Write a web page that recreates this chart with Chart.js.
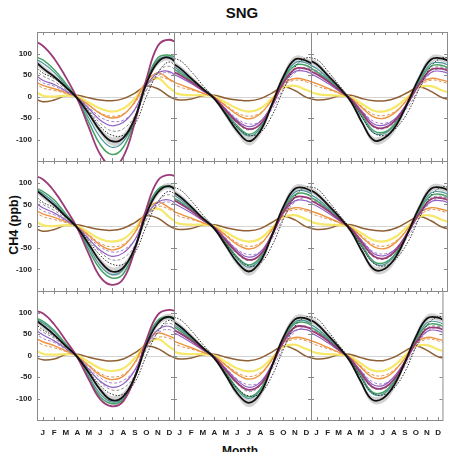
<!DOCTYPE html>
<html><head><meta charset="utf-8">
<script src="https://cdn.jsdelivr.net/npm/chart.js@4.4.1/dist/chart.umd.min.js"></script>
<style>
html,body{margin:0;padding:0;background:#fff;}
#wrap{position:relative;width:449px;height:452px;overflow:hidden;font-family:"Liberation Sans",Arial,sans-serif;}
canvas{position:absolute;left:0;top:0;}
.t{position:absolute;font-weight:bold;color:#111;white-space:nowrap;}
</style></head><body>
<div id="wrap">
<div class="t" style="left:0;width:484px;top:4px;text-align:center;font-size:15px;line-height:18px;">SNG</div>
<div class="t" style="left:14px;top:225px;font-size:12.5px;transform:translate(-50%,-50%) rotate(-90deg);">CH4 (ppb)</div>
<div class="t" style="left:0;width:480px;top:444px;text-align:center;font-size:12px;line-height:14px;">Month</div>
</div>
<script>
// ---- data (Jan..Dec), one row per panel (row-major: top-left .. bottom-right) ----
const months = ['J','F','M','A','M','J','J','A','S','O','N','D'];
const yTickValues = [-100,-50,0,50,100];
const obsSd = [7,6,5,5,6,8,10,10,8,8,8,7];

const obs = [
 [66,46,22,-4,-40,-80,-104,-96,-50,30,80,90],
 [66,42,18,-5,-42,-80,-104,-80,-19,46,86,83],
 [75,48,20,-12,-62,-102,-95,-65,-12,45,86,88],
 [70,48,22,-4,-42,-82,-105,-96,-50,28,78,92],
 [68,44,18,-6,-45,-84,-105,-82,-22,44,86,86],
 [74,48,20,-12,-60,-100,-98,-68,-14,44,86,88],
 [70,48,22,-3,-40,-80,-104,-95,-50,25,75,90],
 [68,44,18,-6,-46,-88,-110,-88,-25,42,84,86],
 [74,48,20,-12,-60,-102,-100,-70,-16,44,86,88]
];
const obsDotted = [
 [55,42,20,-3,-35,-70,-90,-90,-65,0,55,80],
 [84,58,26,-4,-40,-72,-90,-84,-45,15,68,90],
 [86,58,25,-8,-50,-85,-90,-72,-35,20,70,90],
 [55,42,20,-3,-35,-68,-88,-88,-62,0,55,80],
 [84,58,26,-4,-40,-74,-92,-86,-46,15,68,90],
 [86,58,25,-8,-50,-86,-92,-74,-36,20,70,90],
 [60,44,21,-3,-36,-70,-90,-90,-62,0,55,82],
 [84,58,26,-4,-42,-76,-94,-88,-48,14,68,90],
 [86,58,25,-8,-50,-86,-92,-76,-38,20,70,90]
];
const green = [
 [85,62,30,-6,-60,-112,-135,-118,-55,35,90,96],
 [55,37,16,-4,-36,-68,-88,-70,-20,38,72,72],
 [58,38,15,-8,-46,-80,-82,-58,-14,36,70,72],
 [80,60,28,-5,-55,-100,-120,-110,-52,35,85,92],
 [56,37,15,-5,-38,-72,-90,-72,-22,36,72,74],
 [58,38,15,-8,-46,-82,-84,-60,-15,36,70,72],
 [80,58,27,-4,-52,-96,-112,-102,-50,32,82,90],
 [58,38,15,-5,-40,-76,-96,-78,-24,36,74,76],
 [58,38,15,-8,-46,-84,-86,-62,-16,36,70,72]
];
const teal = [
 [78,56,26,-5,-50,-95,-118,-105,-50,35,85,92],
 [60,40,17,-4,-38,-72,-92,-74,-20,40,78,78],
 [65,42,17,-8,-50,-85,-85,-60,-15,38,76,78],
 [75,54,25,-5,-48,-92,-112,-100,-48,35,82,90],
 [62,40,16,-5,-40,-76,-95,-76,-22,38,78,80],
 [64,42,17,-8,-50,-86,-88,-62,-16,38,76,78],
 [76,55,25,-4,-48,-90,-108,-98,-48,32,80,88],
 [62,40,16,-5,-42,-80,-100,-80,-24,38,78,80],
 [64,42,17,-8,-50,-88,-90,-64,-18,38,76,78]
];
const magenta = [
 [118,88,45,-5,-72,-135,-162,-140,-60,40,118,132],
 [50,34,15,-3,-32,-60,-76,-64,-22,32,64,64],
 [52,35,14,-6,-40,-70,-72,-52,-14,30,62,64],
 [108,80,40,-5,-65,-118,-136,-122,-55,40,105,118],
 [52,35,15,-3,-33,-62,-78,-66,-22,32,66,66],
 [52,35,14,-6,-40,-70,-74,-54,-14,30,62,64],
 [98,72,35,-4,-56,-102,-118,-106,-50,36,95,106],
 [52,35,15,-3,-34,-64,-80,-68,-24,32,66,66],
 [52,35,14,-6,-40,-72,-76,-56,-15,30,62,64]
];
const greyDash = [
 [48,35,16,-4,-32,-62,-80,-75,-45,15,58,70],
 [52,35,15,-4,-34,-62,-78,-64,-20,32,64,66],
 [55,36,14,-7,-42,-72,-74,-55,-18,28,64,68],
 [50,36,16,-4,-32,-60,-78,-74,-45,15,58,72],
 [52,35,15,-4,-34,-64,-80,-66,-22,32,64,66],
 [55,36,14,-7,-42,-72,-76,-56,-18,28,64,68],
 [55,40,18,-3,-33,-62,-80,-76,-46,15,60,75],
 [52,35,15,-4,-35,-66,-84,-70,-24,30,64,68],
 [55,36,14,-7,-42,-74,-78,-58,-20,28,64,68]
];
const purple = [
 [38,28,13,-3,-28,-55,-68,-60,-30,25,55,58],
 [45,30,13,-3,-30,-56,-70,-58,-20,30,58,58],
 [46,30,12,-6,-36,-64,-66,-48,-12,28,56,58],
 [42,30,14,-3,-30,-56,-70,-62,-32,25,55,60],
 [45,30,13,-3,-30,-57,-72,-60,-20,30,58,58],
 [46,30,12,-6,-36,-64,-68,-50,-13,28,56,58],
 [48,34,16,-3,-32,-60,-74,-66,-34,24,60,68],
 [46,30,13,-3,-31,-58,-74,-62,-22,30,58,60],
 [46,30,12,-6,-36,-66,-70,-50,-14,28,56,58]
];
const purpleDash = [
 [32,24,11,-3,-25,-48,-58,-55,-32,15,48,55],
 [58,40,17,-3,-28,-52,-64,-58,-30,18,55,66],
 [60,40,16,-6,-34,-58,-62,-50,-24,20,55,66],
 [35,26,12,-3,-26,-48,-60,-55,-32,15,48,55],
 [58,40,17,-3,-28,-54,-66,-60,-30,18,55,66],
 [60,40,16,-6,-34,-60,-64,-52,-24,20,55,66],
 [40,30,14,-3,-28,-52,-64,-58,-34,15,52,60],
 [58,40,17,-3,-29,-55,-68,-62,-32,18,55,66],
 [60,40,16,-6,-34,-60,-66,-52,-25,20,55,66]
];
const orange = [
 [26,18,9,-2,-20,-40,-50,-42,-12,35,55,40],
 [28,18,8,-2,-22,-42,-52,-40,-8,30,42,38],
 [30,19,8,-4,-27,-48,-50,-34,-4,30,42,38],
 [28,20,10,-2,-22,-44,-55,-46,-15,35,55,42],
 [28,18,8,-2,-22,-43,-53,-42,-9,30,42,38],
 [30,19,8,-4,-27,-48,-52,-36,-5,30,42,38],
 [32,23,11,-2,-24,-46,-56,-48,-16,32,52,45],
 [28,18,8,-2,-23,-44,-55,-44,-10,30,42,38],
 [30,19,8,-4,-27,-50,-53,-37,-6,30,42,38]
];
const orangeDash = [
 [20,14,7,-2,-20,-38,-46,-40,-15,25,45,38],
 [22,15,7,-2,-20,-38,-46,-38,-10,25,38,34],
 [24,16,7,-4,-24,-42,-44,-32,-6,24,38,34],
 [22,15,8,-2,-20,-40,-48,-42,-16,25,45,38],
 [22,15,7,-2,-20,-39,-47,-39,-11,25,38,34],
 [24,16,7,-4,-24,-43,-46,-33,-7,24,38,34],
 [25,18,9,-2,-22,-42,-50,-44,-18,22,42,40],
 [22,15,7,-2,-21,-40,-49,-40,-12,25,38,34],
 [24,16,7,-4,-24,-44,-47,-34,-8,24,38,34]
];
const yellow = [
 [2,0,2,0,-14,-28,-35,-28,-5,30,42,20],
 [5,3,3,0,-14,-28,-35,-28,-5,20,25,15],
 [6,3,2,-2,-18,-33,-34,-22,0,22,24,14],
 [2,0,2,0,-15,-30,-36,-30,-6,28,40,20],
 [5,3,3,0,-14,-29,-36,-29,-5,20,25,15],
 [6,3,2,-2,-18,-33,-35,-23,0,22,24,14],
 [4,2,3,0,-15,-30,-36,-30,-6,26,38,20],
 [5,3,3,0,-15,-30,-37,-30,-6,20,25,15],
 [6,3,2,-2,-18,-34,-36,-24,0,22,24,14]
];
const brown = [
 [-12,-8,2,3,-3,-8,-10,-5,8,24,18,0],
 [-8,-6,2,3,-4,-8,-10,-5,8,22,14,-2],
 [-8,-6,2,3,-5,-10,-10,-3,10,22,12,-3],
 [-12,-8,2,3,-3,-8,-10,-5,8,24,18,0],
 [-8,-6,2,3,-4,-9,-11,-6,8,22,14,-2],
 [-8,-6,2,3,-5,-10,-11,-4,10,22,12,-3],
 [-10,-8,2,3,-4,-10,-13,-8,6,22,16,0],
 [-8,-6,2,3,-4,-10,-12,-6,8,22,14,-2],
 [-8,-6,2,3,-5,-11,-12,-4,10,22,12,-3]
];

// ---- layout ----
const colL = [37,174,311], colR = [174,311,447];
const rowT = [32,161,291], rowB = [161,291,420];
const FONT = '"Liberation Sans", Arial, sans-serif';

function cyc(arr){
  const pts = [{x:0,y:arr[11]}];
  arr.forEach((v,i)=>pts.push({x:i+1,y:v}));
  pts.push({x:13,y:arr[0]});
  return pts;
}
const seriesDefs = [
  {src:brown,      color:'#8f6035', w:1.5, dash:[],    order:11},
  {src:yellow,     color:'#f6e86a', w:2.2, dash:[],    order:10},
  {src:orangeDash, color:'#dc9450', w:1,   dash:[3,2], order:9},
  {src:orange,     color:'#ee9440', w:1.4, dash:[],    order:8},
  {src:purpleDash, color:'#a884cc', w:1,   dash:[3,2], order:7},
  {src:purple,     color:'#9060c4', w:1.2, dash:[],    order:6},
  {src:greyDash,   color:'#909090', w:1,   dash:[3,2], order:5},
  {src:teal,       color:'#4a96a0', w:1.2, dash:[],    order:4},
  {src:green,      color:'#48a266', w:1.5, dash:[],    order:3},
  {src:magenta,    color:'#9a3a78', w:1.8, dash:[],    order:2},
  {src:obsDotted,  color:'#333333', w:1,   dash:[1.5,1.5], order:1},
  {src:obs,        color:'#111111', w:1.8, dash:[],    order:0}
];

const framePlugin = {
  id:'frame',
  beforeDatasetsDraw(chart){
    const {ctx, chartArea:a, scales:{y}} = chart;
    ctx.save();
    ctx.strokeStyle = '#d4d4d4'; ctx.lineWidth = 1;
    const y0 = Math.round(y.getPixelForValue(0)) + 0.5;
    ctx.beginPath(); ctx.moveTo(a.left, y0); ctx.lineTo(a.right, y0); ctx.stroke();
    ctx.restore();
  },
  afterDatasetsDraw(chart){
    const {ctx, chartArea:a, scales:{x, y}} = chart;
    ctx.save();
    ctx.strokeStyle = '#8a8a8a'; ctx.lineWidth = 1;
    ctx.strokeRect(a.left + 0.5, a.top + 0.5, a.right - a.left, a.bottom - a.top);
    ctx.beginPath();
    for (let m = 1; m <= 12; m++) {
      const px = Math.round(x.getPixelForValue(m)) + 0.5;
      ctx.moveTo(px, a.top); ctx.lineTo(px, a.top + 3);
      ctx.moveTo(px, a.bottom); ctx.lineTo(px, a.bottom - 3);
    }
    yTickValues.forEach(v => {
      const py = Math.round(y.getPixelForValue(v)) + 0.5;
      ctx.moveTo(a.left, py); ctx.lineTo(a.left + 3, py);
      ctx.moveTo(a.right, py); ctx.lineTo(a.right - 3, py);
    });
    ctx.stroke();
    ctx.restore();
  }
};

const wrap = document.getElementById('wrap');
for (let p = 0; p < 9; p++) {
  const r = Math.floor(p / 3), c = p % 3;
  const cv = document.createElement('canvas');
  cv.width = 449; cv.height = 452;
  cv.style.width = '449px'; cv.style.height = '452px';
  wrap.appendChild(cv);
  const yW = 30, xH = 20;
  const hi = obs[p].map((v,i)=>v + obsSd[i]);
  const lo = obs[p].map((v,i)=>v - obsSd[i]);
  const datasets = [
    {data:cyc(hi), borderWidth:0, borderColor:'rgba(0,0,0,0)', pointRadius:0, fill:false, order:20},
    {data:cyc(lo), borderWidth:0, borderColor:'rgba(0,0,0,0)', pointRadius:0, fill:'-1', backgroundColor:'rgba(150,150,150,0.42)', order:19}
  ];
  seriesDefs.forEach(s => datasets.push({
    data:cyc(s.src[p]), borderColor:s.color, borderWidth:s.w, borderDash:s.dash,
    pointRadius:0, fill:false, order:s.order
  }));
  new Chart(cv, {
    type:'line',
    data:{datasets},
    options:{
      responsive:false, animation:false, devicePixelRatio:1,
      layout:{padding:{left:colL[c]-yW, right:449-colR[c], top:rowT[r], bottom:452-rowB[r]-xH}},
      plugins:{legend:{display:false}, tooltip:{enabled:false}, title:{display:false}},
      elements:{point:{radius:0}, line:{tension:0.4, capBezierPoints:false}},
      datasets:{line:{clip:0}},
      scales:{
        x:{type:'linear', min:0.5, max:12.4,
           afterFit:s=>{s.height = xH;},
           afterBuildTicks:s=>{s.ticks = months.map((m,i)=>({value:i+1}));},
           grid:{display:false, drawTicks:false}, border:{display:false},
           ticks:{display:r===2, autoSkip:false, maxRotation:0, padding:8, color:'#222',
                  font:{size:8, weight:'bold', family:FONT},
                  callback:v=>months[v-1]}},
        y:{type:'linear', min:-150, max:150,
           afterFit:s=>{s.width = yW;},
           afterBuildTicks:s=>{s.ticks = yTickValues.map(v=>({value:v}));},
           grid:{display:false, drawTicks:false}, border:{display:false},
           ticks:{display:c===0, padding:5, color:'#222',
                  font:{size:8, weight:'bold', family:FONT},
                  callback:v=>String(v)}}
      }
    },
    plugins:[framePlugin]
  });
}
</script>
</body></html>
